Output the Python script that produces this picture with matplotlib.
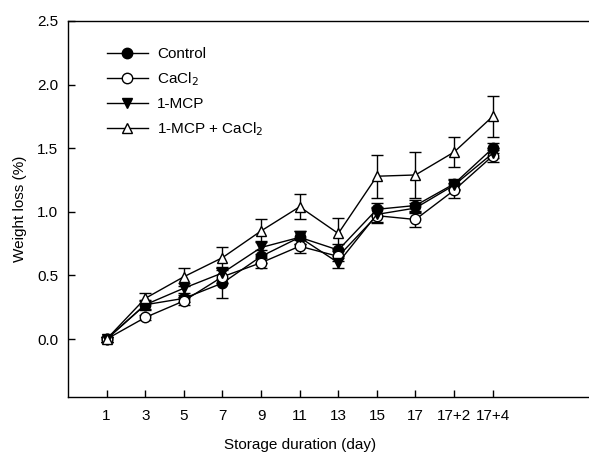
import matplotlib
matplotlib.use("Agg")
import matplotlib.pyplot as plt
import numpy as np

plt.rcParams['font.family'] = ['Liberation Sans', 'DejaVu Sans']

days = ["1", "3", "5", "7", "9", "11", "13", "15", "17", "17+2", "17+4"]

control = [0.00, 0.27, 0.32, 0.44, 0.65, 0.80, 0.70, 1.02, 1.05, 1.22, 1.50]
control_err = [0.02, 0.03, 0.03, 0.12, 0.05, 0.05, 0.05, 0.05, 0.04, 0.04, 0.04]

cacl2 = [0.00, 0.17, 0.30, 0.49, 0.60, 0.73, 0.65, 0.97, 0.94, 1.17, 1.44]
cacl2_err = [0.02, 0.02, 0.03, 0.05, 0.04, 0.05, 0.04, 0.06, 0.06, 0.06, 0.05]

mcp = [0.00, 0.27, 0.40, 0.52, 0.72, 0.80, 0.60, 0.98, 1.03, 1.21, 1.46]
mcp_err = [0.02, 0.04, 0.04, 0.05, 0.05, 0.05, 0.04, 0.06, 0.04, 0.04, 0.04]

mcp_cacl2 = [0.00, 0.32, 0.49, 0.64, 0.85, 1.04, 0.83, 1.28, 1.29, 1.47, 1.75]
mcp_cacl2_err = [0.02, 0.04, 0.07, 0.08, 0.09, 0.10, 0.12, 0.17, 0.18, 0.12, 0.16]

x = np.arange(len(days))

fig = plt.figure(figsize=(5.89, 4.58), dpi=100)
ax = fig.add_axes([68/589, 61/458, 600/589, 376/458])

series = [
    ("Control", control, control_err, 'o', 'black'),
    ("CaCl$_2$", cacl2, cacl2_err, 'o', 'white'),
    ("1-MCP", mcp, mcp_err, 'v', 'black'),
    ("1-MCP + CaCl$_2$", mcp_cacl2, mcp_cacl2_err, '^', 'white'),
]
handles = []
for label, y, e, m, fc in series:
    c = ax.errorbar(x, y, yerr=e, marker=m, markersize=7.5, markerfacecolor=fc,
                    markeredgecolor='black', markeredgewidth=1.0, color='black',
                    linewidth=1.0, ecolor='black', elinewidth=1.0, capsize=4.5,
                    capthick=1.0, label=label)
    handles.append(c.lines[0])

ax.set_xlim(-1, 14.54)
ax.set_ylim(-0.455, 2.5)
ax.set_xticks(x)
ax.set_xticklabels(days)
ax.set_yticks([0.0, 0.5, 1.0, 1.5, 2.0, 2.5])
ax.set_yticklabels(["0.0", "0.5", "1.0", "1.5", "2.0", "2.5"])
ax.tick_params(direction='in', length=5, width=1, labelsize=11)
ax.tick_params(axis='x', pad=9)
ax.tick_params(axis='y', pad=7)
for s in ax.spines.values():
    s.set_linewidth(1.0)

ax.set_xlabel("Storage duration (day)", fontsize=11)
ax.xaxis.set_label_coords(0.387, -0.108)
ax.set_ylabel("Weight loss (%)", fontsize=11, labelpad=7)

leg = ax.legend(handles, [s[0] for s in series], loc='upper left',
                bbox_to_anchor=(0.054, 0.946), frameon=False,
                fontsize=11, handlelength=2.7, handletextpad=0.6,
                labelspacing=0.6, borderaxespad=0)

fig.savefig("out.png", dpi=100)
